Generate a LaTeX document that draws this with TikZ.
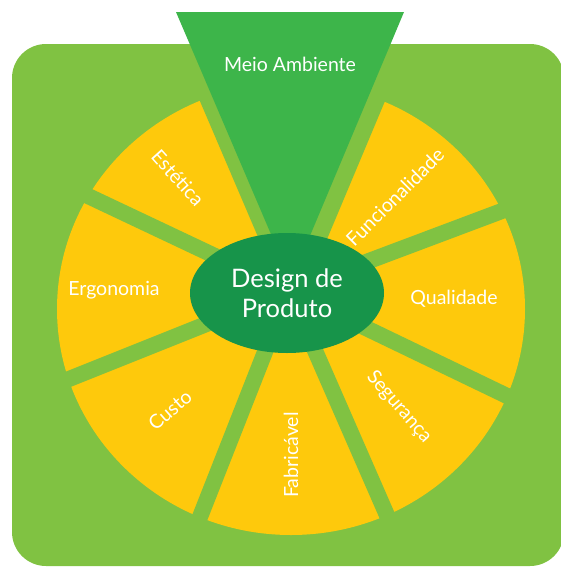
\documentclass[tikz,border=0pt]{standalone}
\usepackage{fontspec}
\setmainfont{Lato}
\usetikzlibrary{shapes.geometric}

\definecolor{leafgreen}{HTML}{80C242}
\definecolor{envgreen}{HTML}{3DB54A}
\definecolor{coregreen}{HTML}{17944A}
\definecolor{sunyellow}{HTML}{FEC90C}

\begin{document}
\begin{tikzpicture}[x=1pt, y=1pt]
  % \draw[help lines] (0,0) grid (560,-568);

  \tikzset{sector text/.style={text=white,inner sep=0pt,font=\fontsize{19.5}{22}\selectfont}}
  \tikzset{gap line/.style={draw=leafgreen,line width=16pt}}
  \tikzset{core node/.style={ellipse,fill=coregreen,text=white,align=center,inner sep=0pt,
      minimum width=194pt,minimum height=120pt,font=\fontsize{25.5}{30}\selectfont}}

  \useasboundingbox (0,0) rectangle (560,-568);
  \fill[leafgreen, rounded corners=34pt] (12,-44) rectangle (564,-566);

  % the wheel, cut into sectors by the gaps
  \fill[sunyellow] (291,-309) ellipse [x radius=234, y radius=226];
  \coordinate (hub) at (289,-291);
  \foreach \a in {154.7, 201.8, 248.5, 293.6, 334.3, 20.6}
    \draw[gap line] (hub) -- ++(\a:262);

  \coordinate (envL) at (176,-12);
  \coordinate (envR) at (404,-12);
  \coordinate (envtip) at (291,-281);
  \draw[gap line, line width=26pt] (envtip) -- (196.5,-60);
  \draw[gap line, line width=34pt] (envtip) -- (383.8,-60);
  \fill[envgreen] (envL) -- (envR) -- (envtip) -- cycle;

  \node[core node] (core) at (287,-293) {Design de\\Produto};

  \path
    (290,-64) node[sector text, font=\fontsize{19.5}{22}\selectfont] (env) {Meio Ambiente}
    (178,-178) node[sector text, rotate=-48] (estetica) {Estética}
    (395,-197) node[sector text, rotate=45] (funcao) {Funcionalidade}
    (114,-290) node[sector text] (ergo) {Ergonomia}
    (454,-299) node[sector text] (quali) {Qualidade}
    (170,-410) node[sector text, rotate=41] (custo) {Custo}
    (291,-455) node[sector text, rotate=90] (fabri) {Fabricável}
    (399,-407) node[sector text, rotate=-49] (seg) {Segurança}
  ;

\end{tikzpicture}
\end{document}
